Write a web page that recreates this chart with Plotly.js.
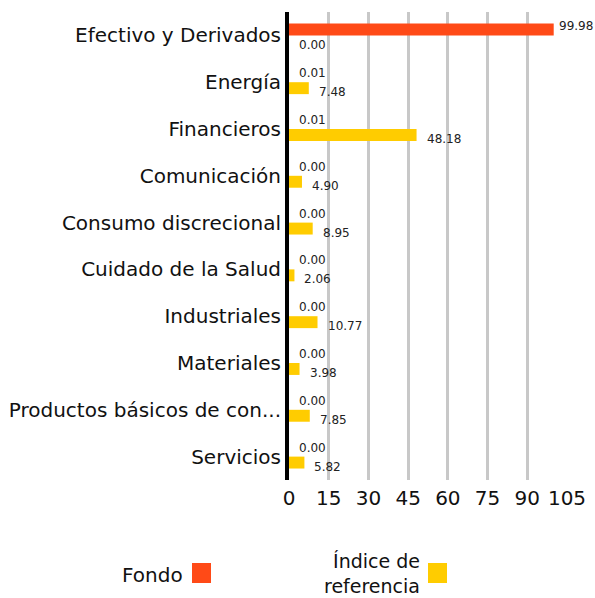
<!DOCTYPE html>
<html>
<head>
<meta charset="utf-8">
<script src="https://cdn.plot.ly/plotly-3.0.1.min.js"></script>
<style>html,body{margin:0;padding:0;background:#fff;}#chart{width:595px;height:598px;}</style>
</head>
<body>
<div id="chart"></div>
<script>
const categories = ["Efectivo y Derivados","Energía","Financieros","Comunicación","Consumo discrecional","Cuidado de la Salud","Industriales","Materiales","Productos básicos de con...","Servicios"];
const fondo = [99.98, 0.01, 0.01, 0.00, 0.00, 0.00, 0.00, 0.00, 0.00, 0.00];
const indice = [0.00, 7.48, 48.18, 4.90, 8.95, 2.06, 10.77, 3.98, 7.85, 5.82];
const tickVals = [0, 15, 30, 45, 60, 75, 90, 105];
const seriesNames = ["Fondo", "Índice de referencia"];

const FONT = "DejaVu Sans, sans-serif";
const C_FONDO = "#FF4A17";
const C_INDICE = "#FFCC00";
const XMAX = 105;
const PLOT_W = 278;

const traces = [
  {type: "bar", orientation: "h", name: seriesNames[0], y: categories, x: fondo,
   marker: {color: C_FONDO}, hoverinfo: "x+y"},
  {type: "bar", orientation: "h", name: seriesNames[1], y: categories, x: indice,
   marker: {color: C_INDICE}, hoverinfo: "x+y"}
];

const valFont = {family: FONT, size: 12, color: "#222"};
function valueLabels(vals, yshift) {
  return vals.map((v, i) => {
    const px = v / XMAX * PLOT_W;
    const xs = Math.min(8, 304 - px - 36);
    return {x: v, y: categories[i], xref: "x", yref: "y", text: v.toFixed(2),
            showarrow: false, xanchor: "left", yanchor: "middle",
            xshift: xs, yshift: yshift, font: valFont};
  });
}

const labelFont = {family: FONT, size: 20, color: "#111"};
const layout = {
  width: 595, height: 598,
  margin: {l: 289, r: 28, t: 12, b: 118},
  paper_bgcolor: "#fff", plot_bgcolor: "#fff",
  barmode: "group", bargap: 0.49, bargroupgap: 0,
  showlegend: false,
  font: {family: FONT, color: "#111"},
  xaxis: {range: [0, XMAX], tickvals: tickVals, ticktext: tickVals.map(String),
          showgrid: true, gridcolor: "#C8C8C8", gridwidth: 3, zeroline: false,
          showline: false, ticks: "", ticklabelstandoff: 4, tickfont: labelFont,
          fixedrange: true},
  yaxis: {type: "category", autorange: "reversed", showgrid: false, zeroline: false,
          showline: true, linecolor: "#000", linewidth: 4, ticks: "",
          ticklabelstandoff: 0, tickfont: labelFont, fixedrange: true},
  shapes: [
    {type: "rect", xref: "paper", yref: "paper", x0: -97/278, x1: -78/278, y0: -83/468, y1: -103/468,
     fillcolor: C_FONDO, line: {width: 0}},
    {type: "rect", xref: "paper", yref: "paper", x0: 139/278, x1: 158/278, y0: -83/468, y1: -103/468,
     fillcolor: C_INDICE, line: {width: 0}}
  ],
  annotations: [
    {xref: "paper", yref: "paper", x: -104/278, y: -95/468, xanchor: "right", yanchor: "middle",
     text: seriesNames[0], showarrow: false, font: labelFont},
    {xref: "paper", yref: "paper", x: 133/278, y: -93/468, xanchor: "right", yanchor: "middle",
     align: "right", text: "Índice de<br>referencia", showarrow: false,
     font: {family: FONT, size: 19, color: "#111"}}
  ].concat(valueLabels(fondo, 9), valueLabels(indice, -10))
};

Plotly.newPlot("chart", traces, layout, {displayModeBar: false, staticPlot: true});
</script>
</body>
</html>
